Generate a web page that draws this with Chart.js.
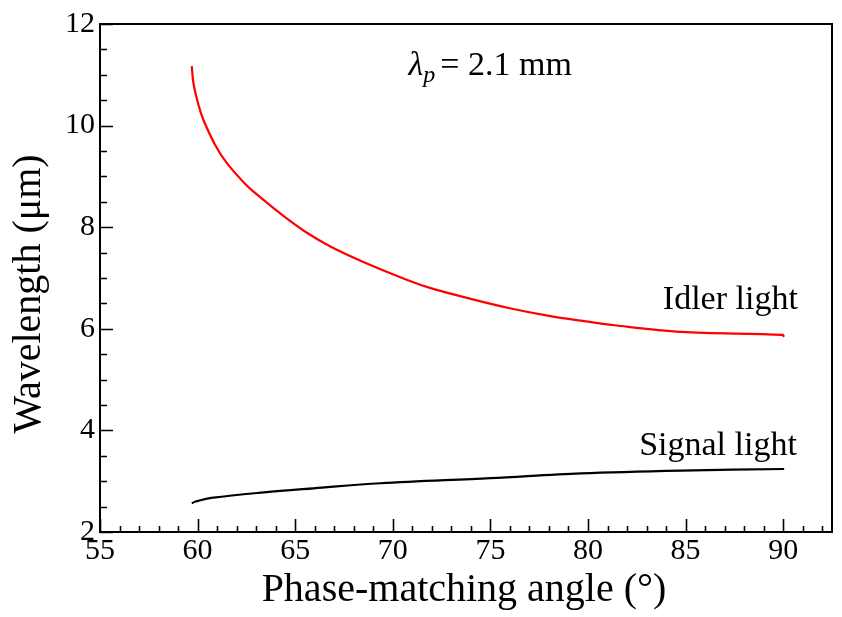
<!DOCTYPE html>
<html><head><meta charset="utf-8">
<script src="https://cdn.jsdelivr.net/npm/chart.js@4.4.0/dist/chart.umd.min.js"></script>
<style>html,body{margin:0;padding:0;background:#fff}#wrap{width:842px;height:617px;position:relative}</style>
</head><body><div id="wrap"><canvas id="c"></canvas></div>
<script>
// ---- data ----
const idlerAngle      = [59.70, 59.79, 60.05, 60.30, 60.90, 61.50, 62.44, 62.96, 63.56, 64.58, 65.60, 66.80, 68.52, 70.74, 71.94, 73.99, 76.05, 77.93, 79.64, 81.35, 84.77, 89.98, 90.03];
const idlerWavelength = [11.17, 10.83, 10.40, 10.11, 9.62,  9.26,  8.85,  8.67,  8.48,  8.17,  7.89,  7.62,  7.31,  6.96,  6.80,  6.59,  6.40,  6.26,  6.16,  6.07,  5.94,  5.88,  5.84];
const signalAngle      = [59.70, 59.90, 60.80, 63.40, 65.95, 69.37, 75.00, 79.64, 84.77, 90.05];
const signalWavelength = [2.565, 2.60, 2.675, 2.78,  2.86,  2.96,  3.06,  3.155, 3.21,  3.24];
const xTicks = [55, 60, 65, 70, 75, 80, 85, 90];
const yTicks = [2, 4, 6, 8, 10, 12];
const xMin = 55, xMax = 92.5, xMinorStep = 1;
const yMin = 2, yMax = 12, yMinorStep = 0.5;
const xTitle = 'Phase-matching angle (\u00B0)';
const yTitle = 'Wavelength (\u03BCm)';
const idlerLabel = 'Idler light';
const signalLabel = 'Signal light';
const pumpLabel = '= 2.1 mm';

const SERIF = '"Liberation Serif", "Times New Roman", serif';

const toPts = (xs, ys) => xs.map((v, i) => ({x: v, y: ys[i]}));

const framePlugin = {
  id: 'frame',
  afterDraw(chart) {
    const {ctx, chartArea: a, scales: {x, y}} = chart;
    ctx.save();
    ctx.strokeStyle = '#000';
    ctx.lineWidth = 1.6;
    ctx.beginPath();
    for (let v = xMin; v <= xMax + 1e-9; v += xMinorStep) {
      const px = Math.round(x.getPixelForValue(v)) + 0.5;
      const major = xTicks.some(t => Math.abs(t - v) < 1e-6);
      ctx.moveTo(px, a.bottom);
      ctx.lineTo(px, a.bottom - (major ? 13 : 6));
    }
    for (let v = yMin; v <= yMax + 1e-9; v += yMinorStep) {
      const py = Math.round(y.getPixelForValue(v)) + 0.5;
      const major = yTicks.some(t => Math.abs(t - v) < 1e-6);
      ctx.moveTo(a.left, py);
      ctx.lineTo(a.left + (major ? 13 : 7), py);
    }
    ctx.stroke();
    ctx.lineWidth = 2;
    ctx.strokeRect(a.left, a.top, a.right - a.left, a.bottom - a.top);

    ctx.fillStyle = '#000';
    ctx.font = '40px ' + SERIF;
    ctx.textAlign = 'center';
    ctx.textBaseline = 'alphabetic';
    ctx.fillText(xTitle, (a.left + a.right) / 2 - 2, 601);
    ctx.save();
    ctx.translate(40, 294);
    ctx.rotate(-Math.PI / 2);
    ctx.fillText(yTitle, 0, 0);
    ctx.restore();

    ctx.font = '34px ' + SERIF;
    ctx.textAlign = 'right';
    ctx.fillText(idlerLabel, x.getPixelForValue(90.75), y.getPixelForValue(6.39));
    ctx.fillText(signalLabel, x.getPixelForValue(90.7), y.getPixelForValue(3.52));

    let lx = x.getPixelForValue(70.81);
    const ly = y.getPixelForValue(11.0);
    ctx.textAlign = 'left';
    ctx.font = 'italic 34px ' + SERIF;
    ctx.fillText('\u03BB', lx, ly);
    lx += ctx.measureText('\u03BB').width;
    ctx.font = 'italic 24px ' + SERIF;
    ctx.fillText('p', lx, ly + 7);
    lx += ctx.measureText('p').width + 5;
    ctx.font = '34px ' + SERIF;
    ctx.fillText(pumpLabel, lx, ly);
    ctx.restore();
  }
};

new Chart(document.getElementById('c'), {
  type: 'scatter',
  data: {
    datasets: [
      { label: idlerLabel, data: toPts(idlerAngle, idlerWavelength), showLine: true,
        borderColor: '#ff0000', borderWidth: 2.2, pointRadius: 0, tension: 0.35, fill: false },
      { label: signalLabel, data: toPts(signalAngle, signalWavelength), showLine: true,
        borderColor: '#000000', borderWidth: 2.2, pointRadius: 0, tension: 0.35, fill: false }
    ]
  },
  options: {
    responsive: true, maintainAspectRatio: false, animation: false,
    layout: { padding: { top: 24, right: 10, left: 0, bottom: 0 } },
    plugins: { legend: { display: false }, tooltip: { enabled: false } },
    scales: {
      x: {
        type: 'linear', min: xMin, max: xMax,
        afterBuildTicks: s => { s.ticks = xTicks.map(v => ({ value: v })); },
        afterFit: s => { s.height = 85; },
        grid: { display: false, drawTicks: false },
        border: { display: false },
        ticks: { color: '#000', font: { family: SERIF, size: 30 }, padding: 1, maxRotation: 0, autoSkip: false }
      },
      y: {
        type: 'linear', min: yMin, max: yMax,
        afterBuildTicks: s => { s.ticks = yTicks.map(v => ({ value: v })); },
        afterFit: s => { s.width = 100; },
        grid: { display: false, drawTicks: false },
        border: { display: false },
        ticks: { color: '#000', font: { family: SERIF, size: 30 }, padding: 5, autoSkip: false }
      }
    }
  },
  plugins: [framePlugin]
});
</script>
</body></html>
